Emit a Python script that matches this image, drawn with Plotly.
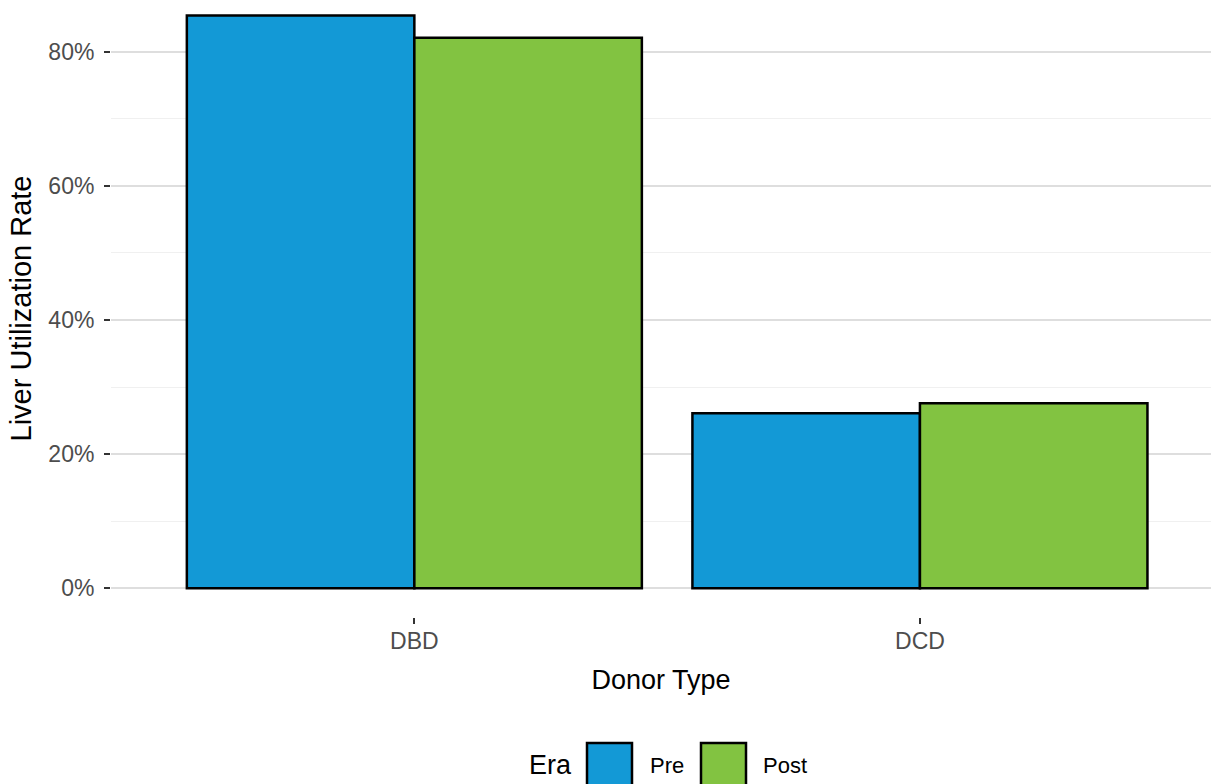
import plotly.graph_objects as go

donor_types = ["DBD", "DCD"]
eras = ["Pre", "Post"]
pre_rates = [0.854, 0.261]
post_rates = [0.821, 0.276]
era_colors = {"Pre": "#1399D6", "Post": "#82C341"}
y_tick_vals = [0, 0.2, 0.4, 0.6, 0.8]

W, H = 1211, 784
L, R, T, B = 111, 0, 0, 167
PW, PH = W - L - R, H - T - B

fig = go.Figure()
for era, vals in zip(eras, [pre_rates, post_rates]):
    fig.add_trace(go.Bar(
        x=donor_types, y=vals, name=era,
        marker=dict(color=era_colors[era], line=dict(color="black", width=2.5)),
        showlegend=False,
    ))

font_family = "Liberation Sans, Arial, sans-serif"

fig.update_layout(
    width=W, height=H,
    margin=dict(l=L, r=R, t=T, b=B, pad=0),
    barmode="group", bargap=0.1, bargroupgap=0,
    plot_bgcolor="white", paper_bgcolor="white",
    font=dict(family=font_family, color="black"),
    xaxis=dict(
        range=[-0.6, 1.5757],
        showgrid=False, zeroline=False, showline=False,
        ticks="outside", ticklen=6, tickwidth=2, tickcolor="#333333",
        tickfont=dict(size=23, color="#4d4d4d"),
        ticklabelstandoff=-3,
        title=dict(text="Donor Type", font=dict(size=27, color="black"), standoff=17),
    ),
    yaxis=dict(
        range=[-0.0428, 0.8771],
        tickvals=y_tick_vals, tickformat=".0%",
        showgrid=True, gridcolor="#dedede", gridwidth=2,
        zeroline=False, showline=False,
        ticks="outside", ticklen=6, tickwidth=2, tickcolor="#333333",
        tickfont=dict(size=23, color="#4d4d4d"),
        ticklabelstandoff=5,
        minor=dict(tick0=0, dtick=0.1, showgrid=True, gridcolor="#f0f0f0", gridwidth=1, ticks=""),
        title=dict(text="Liver Utilization Rate", font=dict(size=29, color="black"), standoff=8),
    ),
)

# Manual legend (ggplot-style, bottom centered)
def px_x(p):
    return (p - L) / PW

def px_y(p):
    return (T + PH - p) / PH

fig.add_annotation(x=px_x(550), y=px_y(765), xref="paper", yref="paper",
                   text="Era", showarrow=False, font=dict(size=27, color="black"),
                   xanchor="center", yanchor="middle")
legend_items = [("Pre", 587, 648), ("Post", 701, 761)]
for era, bx, tx in legend_items:
    fig.add_shape(type="rect", xref="paper", yref="paper",
                  x0=px_x(bx), x1=px_x(bx + 45), y0=px_y(743), y1=px_y(788),
                  fillcolor=era_colors[era], line=dict(color="black", width=2.5))
    fig.add_annotation(x=px_x(tx), y=px_y(765), xref="paper", yref="paper",
                       text=era, showarrow=False, font=dict(size=22, color="black"),
                       xanchor="left", yanchor="middle")

fig.write_html("out.html",
               config={"displayModeBar": False},
               post_script="document.body.style.margin='0';document.body.style.overflow='hidden';")
